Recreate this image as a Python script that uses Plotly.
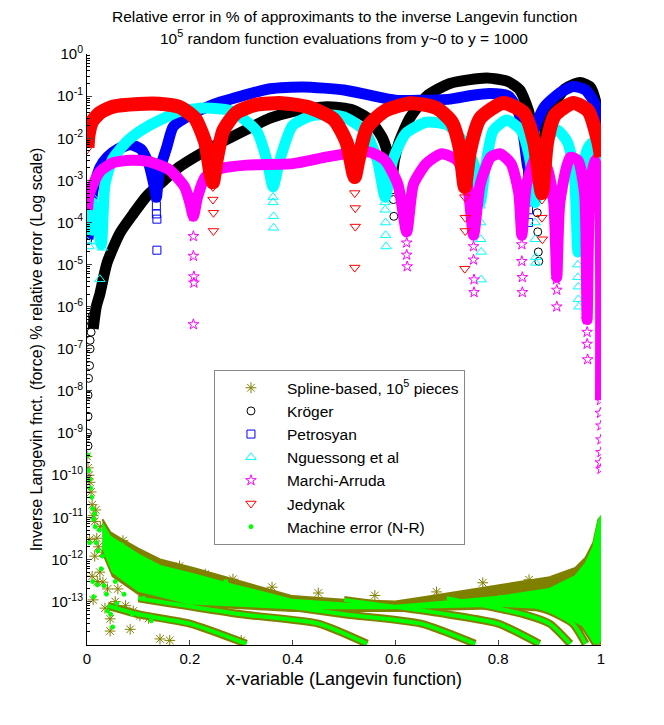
import plotly.graph_objects as go

# ---------------- data ----------------
# Kroger (black circles)
kroger_x = [0.012, 0.018, 0.025, 0.039, 0.064, 0.09, 0.116, 0.15, 0.18, 0.245,
            0.31, 0.356, 0.40, 0.467, 0.517, 0.55, 0.575, 0.588, 0.593, 0.598, 0.607, 0.628, 0.661, 0.706,
            0.778, 0.82, 0.842, 0.86, 0.872, 0.877, 0.885, 0.90, 0.93, 0.959, 0.98, 0.993, 1.0]
kroger_y = [3e-7, 1e-6, 2e-6, 1.1e-5, 5.6e-5, 1.6e-4, 4.2e-4, 1e-3, 2.1e-3, 6.3e-3,
            1.6e-2, 3e-2, 4.3e-2, 5.6e-2, 4.7e-2, 2.75e-2, 1e-2, 3e-3, 1e-3, 3e-3, 8e-3, 3e-2, 1e-1, 2e-1,
            2.7e-1, 2.2e-1, 1.4e-1, 4e-2, 3e-3, 1e-3, 5e-3, 4e-2, 1.5e-1, 2.1e-1, 1.6e-1, 5e-2, 1e-2]
kroger_pts_x = [0.002, 0.001, 0.002, 0.002, 0.003, 0.005, 0.006, 0.006, 0.008, 0.009, 0.010,
                0.593, 0.594, 0.595, 0.596, 0.597, 0.876, 0.877, 0.878, 0.879]
kroger_pts_y = [5e-10, 1e-9, 2.5e-9, 8e-9, 2e-8, 4e-8, 1e-7, 1.6e-7, 2.5e-7, 4e-7, 6e-7,
                2e-3, 1e-3, 6e-4, 3.5e-4, 1.4e-4, 1.7e-4, 6e-5, 2e-5, 1.2e-5]

# Petrosyan (blue squares)
petro_x = [0.002, 0.006, 0.012, 0.025, 0.04, 0.06, 0.084, 0.105, 0.12, 0.13, 0.135, 0.14, 0.155, 0.168,
           0.2, 0.245, 0.30, 0.356, 0.42, 0.5, 0.55, 0.6, 0.65, 0.706, 0.75, 0.784, 0.82, 0.84, 0.85,
           0.858, 0.866, 0.875, 0.89, 0.92, 0.946, 0.97, 0.99, 1.0]
petro_y = [4e-5, 1.5e-4, 6e-4, 2e-3, 3.6e-3, 5.5e-3, 7e-3, 5.5e-3, 2.5e-3, 8e-4, 4e-4, 1.5e-3, 6e-3, 1.9e-2,
           3.5e-2, 6.3e-2, 1.0e-1, 1.5e-1, 1.65e-1, 1.4e-1, 1.05e-1, 8e-2, 8e-2, 8.5e-2, 1.05e-1, 1.15e-1,
           1.0e-1, 4e-2, 1e-2, 2e-3, 1e-2, 2.3e-2, 5.6e-2, 1.2e-1, 1.7e-1, 1.4e-1, 6e-2, 1e-2]
petro_pts_x = [0.001, 0.002, 0.003, 0.134, 0.134, 0.135, 0.135, 0.136, 0.136, 0.857, 0.858, 0.858, 0.859, 0.859]
petro_pts_y = [4e-5, 6e-5, 1e-4, 6e-4, 4e-4, 2.5e-4, 1.6e-4, 1.2e-4, 2.2e-5, 1.5e-3, 8e-4, 4e-4, 2e-4, 1e-4]

# Nguessong et al (cyan triangles)
nguess_x = [0.002, 0.01, 0.02, 0.028, 0.035, 0.05, 0.08, 0.116, 0.18, 0.23, 0.28, 0.33, 0.35, 0.362, 0.375,
            0.40, 0.44, 0.50, 0.54, 0.565, 0.58, 0.595, 0.62, 0.66, 0.70, 0.73, 0.755, 0.765, 0.775, 0.79,
            0.817, 0.845, 0.862, 0.872, 0.882, 0.895, 0.914, 0.935, 0.948, 0.955, 0.962, 0.975, 0.985, 1.0]
nguess_y = [5e-5, 3e-4, 1e-4, 3e-5, 8e-4, 3.2e-3, 9e-3, 1.86e-2, 4.3e-2, 5.2e-2, 4.5e-2, 1.5e-2, 3e-3, 7e-4,
            3e-3, 2e-2, 3.5e-2, 3.2e-2, 1.5e-2, 3e-3, 4e-4, 3e-3, 1.3e-2, 2.4e-2, 2.1e-2, 9e-3, 2e-3, 3e-4, 2e-3,
            1.5e-2, 2.7e-2, 1.5e-2, 3e-3, 3e-4, 3e-3, 1e-2, 1.6e-2, 8e-3, 1.5e-3, 2e-5, 1.5e-3, 6e-3, 8e-3, 1.2e-3]
nguess_pts_x = [0.001, 0.001, 0.004, 0.012, 0.015, 0.018, 0.02, 0.022, 0.025, 0.03,
                0.362, 0.362, 0.363, 0.363, 0.58, 0.58, 0.581, 0.581, 0.582,
                0.765, 0.765, 0.766, 0.766, 0.767, 0.767, 0.872, 0.872, 0.873, 0.873,
                0.954, 0.955, 0.955, 0.956, 0.956, 0.957]
nguess_pts_y = [6e-5, 3.5e-5, 2.7e-5, 4e-4, 2e-4, 1e-4, 6e-5, 3.5e-5, 4.5e-6, 2.5e-5,
                4e-4, 3e-4, 1.4e-4, 7.5e-5, 3e-4, 2e-4, 1e-4, 5e-5, 2.7e-5,
                6e-4, 2.5e-4, 1e-4, 4e-5, 2e-5, 4.4e-6, 1e-4, 4e-5, 1.5e-5, 1.1e-5,
                3e-5, 1e-5, 5e-6, 3e-6, 1.5e-6, 1e-6]

# Marchi-Arruda (magenta stars)
marchi_x = [0.001, 0.005, 0.025, 0.05, 0.084, 0.12, 0.16, 0.19, 0.2, 0.207, 0.215, 0.23, 0.26, 0.31, 0.4,
            0.467, 0.517, 0.55, 0.58, 0.605, 0.622, 0.635, 0.66, 0.69, 0.72, 0.74, 0.752, 0.765, 0.785,
            0.803, 0.825, 0.84, 0.846, 0.855, 0.875, 0.895, 0.908, 0.914, 0.92, 0.94, 0.955, 0.968, 0.973,
            0.978, 0.987, 0.995, 0.999]
marchi_y = [2e-4, 5e-4, 1.6e-3, 2.6e-3, 3e-3, 2.8e-3, 1.8e-3, 7e-4, 3e-4, 1.4e-4, 4e-4, 1.2e-3, 1.9e-3, 2.3e-3,
            2.5e-3, 3.6e-3, 4.5e-3, 4.7e-3, 3e-3, 8e-4, 6e-5, 8e-4, 2.5e-3, 4.3e-3, 3e-3, 8e-4, 5e-5, 8e-4,
            3.5e-3, 4.3e-3, 2.5e-3, 5e-4, 5e-5, 8e-4, 3.7e-3, 2e-3, 3e-4, 5e-6, 3e-4, 3.5e-3, 3e-3, 5e-4,
            5e-7, 5e-4, 3e-3, 1.5e-3, 6e-9]
marchi_pts_x = [0.206, 0.207, 0.207, 0.208, 0.208, 0.207, 0.621, 0.622, 0.622, 0.623,
                0.751, 0.752, 0.752, 0.753, 0.753, 0.845, 0.846, 0.846, 0.847, 0.847,
                0.913, 0.914, 0.914, 0.972, 0.973, 0.973, 0.974, 0.999, 0.999, 1.0, 1.0, 1.0, 0.999, 1.0]
marchi_pts_y = [1.4e-4, 4.7e-5, 1.6e-5, 5.2e-6, 3.7e-6, 3.8e-7, 6.8e-5, 3.3e-5, 1.7e-5, 9e-6,
                5.8e-5, 2.7e-5, 1.3e-5, 4.4e-6, 2.2e-6, 6e-5, 3e-5, 1.2e-5, 5e-6, 2.2e-6,
                4.4e-6, 2.5e-6, 1e-6, 5e-7, 2.5e-7, 1.3e-7, 5.6e-8, 6e-9, 3e-9, 1.5e-9, 7e-10, 3.5e-10, 2e-10, 1.4e-10]

# Jedynak (red triangles down)
jedy_x = [0.001, 0.003, 0.01, 0.025, 0.05, 0.1, 0.14, 0.18, 0.21, 0.23, 0.24, 0.245, 0.252, 0.265, 0.29,
          0.33, 0.38, 0.43, 0.48, 0.505, 0.518, 0.521, 0.528, 0.545, 0.58, 0.63, 0.68, 0.71, 0.725, 0.735,
          0.745, 0.765, 0.81, 0.85, 0.87, 0.885, 0.895, 0.91, 0.946, 0.975, 0.995, 1.0]
jedy_y = [6e-3, 1.2e-2, 2.5e-2, 4e-2, 5.6e-2, 6.5e-2, 6.6e-2, 5.5e-2, 3e-2, 8e-3, 1.5e-3, 9e-4, 3e-3, 1.5e-2,
          4e-2, 6.3e-2, 6.8e-2, 5.5e-2, 2.8e-2, 8e-3, 1.5e-3, 1.2e-3, 3e-3, 1.8e-2, 4.5e-2, 6.8e-2, 5.2e-2,
          2.4e-2, 6e-3, 7e-4, 5e-3, 3e-2, 6.9e-2, 4e-2, 8e-3, 5e-4, 8e-3, 3.5e-2, 6.9e-2, 4.5e-2, 8e-3, 3.6e-3]
jedy_pts_x = [0.0, 0.001, 0.245, 0.245, 0.246, 0.246, 0.521, 0.521, 0.522, 0.522, 0.521,
              0.735, 0.735, 0.736, 0.736, 0.735, 0.885, 0.885, 0.886]
jedy_pts_y = [5.4e-3, 8e-3, 7e-4, 3.5e-4, 1.7e-4, 6.3e-5, 1.3e-3, 5e-4, 2.2e-4, 8e-5, 8.5e-6,
              7e-4, 4e-4, 1.3e-4, 6.3e-5, 8e-6, 3.5e-4, 1.3e-4, 4e-5]

# Spline-based (olive asterisks): dense cloud envelope, lower streaks, scattered points
spline_top_x = [0.03, 0.045, 0.064, 0.1, 0.142, 0.207, 0.284, 0.4, 0.5, 0.6, 0.667, 0.8,
                0.9, 0.95, 0.97, 0.985, 0.995, 1.0]
spline_top_y = [9e-12, 4.5e-12, 3.2e-12, 1.8e-12, 1e-12, 6.3e-13, 3.4e-13, 1.35e-13, 1.1e-13,
                1.0e-13, 1.35e-13, 2.4e-13, 3.8e-13, 6.3e-13, 1.1e-12, 2.5e-12, 9e-12, 1e-11]
spline_bot_x = [1.0, 0.99, 0.97, 0.9, 0.8, 0.6, 0.4, 0.2, 0.1, 0.05, 0.03]
spline_bot_y = [1e-14, 1e-14, 2e-14, 6e-14, 7e-14, 6e-14, 6e-14, 8e-14, 1.5e-13, 4e-13, 1.5e-12]
streak_x = [[0.04, 0.1, 0.2, 0.31], [0.1, 0.3, 0.45, 0.545], [0.3, 0.5, 0.65, 0.755],
            [0.5, 0.7, 0.8, 0.88], [0.7, 0.85, 0.9, 0.94], [0.8, 0.9, 0.945, 0.97], [0.88, 0.95, 0.99],
            [0.92, 0.97, 0.995]]
streak_y = [[8e-14, 5e-14, 3e-14, 1e-14], [1.2e-13, 5e-14, 3e-14, 1e-14], [1.1e-13, 5e-14, 3e-14, 1e-14],
            [1.1e-13, 5e-14, 3e-14, 1e-14], [1.2e-13, 5e-14, 3e-14, 1e-14], [1.3e-13, 6e-14, 3e-14, 1e-14],
            [1.5e-13, 5e-14, 1e-14], [2e-13, 5e-14, 1e-14]]
spline_pts_x = [0.0, 0.002, 0.004, 0.006, 0.008, 0.01, 0.012, 0.015, 0.019, 0.022, 0.026, 0.01, 0.012,
                0.031, 0.031, 0.045, 0.045, 0.064, 0.07, 0.078, 0.084, 0.103, 0.109, 0.142, 0.161,
                0.05, 0.02, 0.035, 0.055, 0.09, 0.12, 0.284, 0.3, 0.45, 0.005, 0.017, 0.015, 0.025,
                0.04, 0.06, 0.075, 0.095, 0.13, 0.18, 0.23, 0.36, 0.56, 0.68, 0.77, 0.86]
spline_pts_y = [2.8e-10, 1.5e-10, 1e-10, 6.8e-11, 4e-11, 2e-11, 1.1e-11, 8e-12, 3.2e-12, 2e-12, 6e-12,
                4e-13, 1.1e-13, 1.5e-12, 2.9e-13, 3.9e-14, 2e-14, 1.2e-12, 2.8e-12, 4e-13, 2.2e-14,
                4.6e-14, 1.35e-13, 1.3e-14, 1.2e-14, 8e-13, 3e-13, 7e-14, 1e-13, 6e-14, 4e-14,
                3.4e-13, 1.2e-14, 1.6e-13, 3e-12, 1.5e-11, 1.2e-12, 5e-13, 2e-13, 2e-13, 8e-14,
                2.5e-13, 1.5e-13, 7e-13, 4.5e-13, 2.2e-13, 1.4e-13, 1.7e-13, 2.8e-13, 3.3e-13]

# Machine error (green dots)
mach_top_x = [0.03, 0.045, 0.064, 0.1, 0.142, 0.207, 0.284, 0.4, 0.5, 0.6, 0.7, 0.8, 0.9,
              0.95, 0.97, 0.985, 0.995, 1.0]
mach_top_y = [7e-12, 3.5e-12, 2.5e-12, 1.3e-12, 7e-13, 4.5e-13, 2.5e-13, 1.1e-13, 9e-14,
              8e-14, 1e-13, 1.3e-13, 2e-13, 4e-13, 8e-13, 2e-12, 8e-12, 1.1e-11]
mach_bot_x = [1.0, 0.99, 0.97, 0.9, 0.8, 0.6, 0.4, 0.2, 0.1, 0.05, 0.03]
mach_bot_y = [1.2e-14, 1.2e-14, 2.5e-14, 7e-14, 8e-14, 7e-14, 7e-14, 9e-14, 1.8e-13, 5e-13, 2e-12]
mach_pts_x = [0.002, 0.003, 0.005, 0.007, 0.009, 0.011, 0.013, 0.016, 0.018, 0.021, 0.024, 0.011,
              0.013, 0.03, 0.033, 0.046, 0.05, 0.062, 0.068, 0.08, 0.1, 0.11, 0.02, 0.04, 0.058, 0.088,
              0.125, 0.27, 0.005, 0.015, 0.028, 0.038, 0.055, 0.072, 0.15, 0.19]
mach_pts_y = [3e-10, 1.3e-10, 8e-11, 5e-11, 3e-11, 1.6e-11, 9e-12, 6e-12, 2.5e-12, 1.6e-12, 5e-12, 3e-13,
              1.3e-13, 1.2e-12, 2.4e-13, 5e-14, 2.5e-14, 1e-12, 2.2e-12, 3.5e-13, 5e-14, 1.2e-13, 2.5e-13,
              6e-14, 9e-14, 5e-14, 3.5e-14, 3e-13, 2.5e-12, 1.2e-11, 6e-13, 1.5e-13, 3e-13, 1.5e-13,
              2e-13, 1.6e-13]

y_tick_exp = list(range(0, -14, -1))
x_ticks = [0, 0.2, 0.4, 0.6, 0.8, 1]
x_tick_text = ["0", "0.2", "0.4", "0.6", "0.8", "1"]

# ---------------- figure ----------------
OLIVE = "#808000"
GREEN = "#00ff00"
FONT = "Liberation Sans, Arial, sans-serif"
FS = 15
fig = go.Figure()


def band(x, y, color, width):
    fig.add_trace(go.Scatter(x=x, y=y, mode="lines",
                             line=dict(color=color, width=width, shape="spline", smoothing=0.6),
                             showlegend=False, hoverinfo="skip"))


def pts(x, y, name, symbol, color, size, group, show=True):
    fig.add_trace(go.Scatter(x=x, y=y, mode="markers", name=name, legendgroup=group, showlegend=show,
                             marker=dict(symbol=symbol, size=size, color=color,
                                         line=dict(color=color, width=1))))


def cloud(tx, ty, bx, by, color):
    fig.add_trace(go.Scatter(x=tx + bx, y=ty + by, fill="toself", fillcolor=color,
                             line=dict(color=color, width=2), mode="lines",
                             showlegend=False, hoverinfo="skip"))


# spline cloud
cloud(spline_top_x, spline_top_y, spline_bot_x, spline_bot_y, OLIVE)
for sx, sy in zip(streak_x, streak_y):
    band(sx, sy, OLIVE, 8)
pts(spline_pts_x, spline_pts_y, "Spline-based, 10<sup>5</sup> pieces", "asterisk-open", OLIVE, 9, "g1")

band(kroger_x, kroger_y, "black", 11)
pts(kroger_pts_x, kroger_pts_y, "Kröger", "circle-open", "black", 8, "g2")
band(petro_x, petro_y, "blue", 11)
pts(petro_pts_x, petro_pts_y, "Petrosyan", "square-open", "blue", 8, "g3")
band(nguess_x, nguess_y, "cyan", 11)
pts(nguess_pts_x, nguess_pts_y, "Nguessong et al", "triangle-up-open", "cyan", 9, "g4")
band(marchi_x, marchi_y, "magenta", 11)
pts(marchi_pts_x, marchi_pts_y, "Marchi-Arruda", "star-open", "magenta", 8, "g5")
band(jedy_x, jedy_y, "red", 14)
pts(jedy_pts_x, jedy_pts_y, "Jedynak", "triangle-down-open", "red", 9, "g6")

# machine error cloud
cloud(mach_top_x, mach_top_y, mach_bot_x, mach_bot_y, GREEN)
for sx, sy in zip(streak_x, streak_y):
    band(sx, sy, GREEN, 4)
pts(mach_pts_x, mach_pts_y, "Machine error (N-R)", "circle", GREEN, 4, "g7")

minor_vals = [m * 10.0 ** e for e in range(-15, 0) for m in range(2, 10)]

fig.update_layout(
    width=664, height=725, plot_bgcolor="white", paper_bgcolor="white",
    margin=dict(l=79, r=71, t=46, b=88),
    font=dict(family=FONT, size=FS, color="black"),
    showlegend=True,
    legend=dict(x=0.247, y=0.465, xanchor="left", yanchor="top", bgcolor="white",
                bordercolor="#888888", borderwidth=1, font=dict(size=15.5), tracegroupgap=0,
                itemwidth=62),
    annotations=[
        dict(text="Relative error in % of approximants to the inverse Langevin function", x=0.5, y=1.064,
             xref="paper", yref="paper", showarrow=False, font=dict(size=15.5), yanchor="middle"),
        dict(text="10<sup>5</sup> random function evaluations from y~0 to y = 1000", x=0.5, y=1.0288,
             xref="paper", yref="paper", showarrow=False, font=dict(size=15.5), yanchor="middle"),
    ],
)
fig.update_xaxes(range=[0, 1], tickvals=x_ticks, ticktext=x_tick_text, ticks="inside", ticklen=5,
                 showline=True, linecolor="black", linewidth=1, showgrid=False, zeroline=False,
                 automargin=False,
                 title=dict(text="x-variable (Langevin function)", standoff=6),
                 tickfont=dict(size=FS))
fig.update_yaxes(type="log", range=[-14.03, 0],
                 tickvals=[10.0 ** e for e in y_tick_exp],
                 ticktext=["10<sup>%d</sup>" % e for e in y_tick_exp],
                 ticks="inside", ticklen=5, showline=True, linecolor="black", linewidth=1,
                 showgrid=False, zeroline=False, automargin=False,
                 minor=dict(tickmode="array", tickvals=minor_vals, ticks="inside", ticklen=3,
                            tickcolor="black", showgrid=False),
                 title=dict(text="Inverse Langevin fnct. (force) % relative error (Log scale)", standoff=4,
                            font=dict(size=16)),
                 tickfont=dict(size=FS))

fig.write_html("out.html")
